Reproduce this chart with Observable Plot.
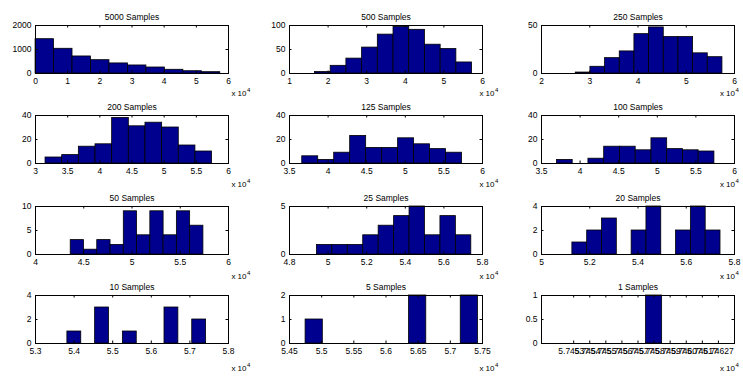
<!DOCTYPE html>
<html><head><meta charset="utf-8">
<script src="https://cdn.jsdelivr.net/npm/d3@7"></script>
<script src="https://cdn.jsdelivr.net/npm/@observablehq/plot@0.6"></script>
<style>
html,body{margin:0;padding:0;background:#fff;}
#wrap{position:relative;width:743px;height:377px;overflow:hidden;background:#fff;}
#wrap svg{position:absolute;}
</style></head><body><div id="wrap"></div>
<script>
// Panel titles
const titles = ["5000 Samples","500 Samples","250 Samples","200 Samples","125 Samples","100 Samples",
                "50 Samples","25 Samples","20 Samples","10 Samples","5 Samples","1 Samples"];
// histogram range (x 10^4): lowest and highest bin edge; 10 equal bins in between
const binLo = [0.002, 1.66, 2.71, 3.156, 3.665, 3.70, 4.365, 4.942, 5.128, 5.3826, 5.475, 5.74532];
const binHi = [5.745, 5.73, 5.75, 5.745, 5.735, 5.74, 5.74, 5.742, 5.742, 5.742, 5.743, 5.74632];
// counts per bin
const counts5000 = [1430, 1030, 710, 555, 420, 335, 250, 155, 95, 55];
const counts500  = [3, 16, 31, 54, 81, 97, 91, 60, 51, 23];
const counts250  = [1, 7, 16, 23, 41, 48, 38, 38, 21, 17];
const counts200  = [5, 7, 14, 16, 38, 31, 34, 30, 15, 10];
const counts125  = [6, 3, 9, 23, 13, 13, 21, 16, 12, 9];
const counts100  = [3, 0, 4, 14, 14, 11, 21, 12, 11, 10];
const counts50   = [3, 1, 3, 2, 9, 4, 9, 4, 9, 6];
const counts25   = [1, 1, 1, 2, 3, 4, 5, 2, 4, 2];
const counts20   = [1, 2, 3, 0, 2, 4, 0, 2, 4, 2];
const counts10   = [1, 0, 3, 0, 1, 0, 0, 3, 0, 2];
const counts5    = [1, 0, 0, 0, 0, 0, 2, 0, 0, 2];
const counts1    = [0, 0, 0, 0, 0, 1, 0, 0, 0, 0];
const counts = [counts5000, counts500, counts250, counts200, counts125, counts100,
                counts50, counts25, counts20, counts10, counts5, counts1];
// axis limits and ticks
const xLimits = [[0,6],[1,6],[2,6],[3,6],[3.5,6],[3.5,6],[4,6],[4.8,5.8],[5,5.8],[5.3,5.8],[5.45,5.75],[5.74517,5.74637]];
const xTicks = [
  [0,1,2,3,4,5,6],[1,2,3,4,5,6],[2,3,4,5,6],[3,3.5,4,4.5,5,5.5,6],[3.5,4,4.5,5,5.5,6],[3.5,4,4.5,5,5.5,6],
  [4,4.5,5,5.5,6],[4.8,5,5.2,5.4,5.6,5.8],[5,5.2,5.4,5.6,5.8],[5.3,5.4,5.5,5.6,5.7,5.8],
  [5.45,5.5,5.55,5.6,5.65,5.7,5.75],
  [5.74537,5.74547,5.74557,5.74567,5.74577,5.74587,5.74597,5.74607,5.74617,5.74627]
];
const yTicks = [[0,1000,2000],[0,50,100],[0,50],[0,20,40],[0,20,40],[0,20,40],
                [0,5,10],[0,5],[0,2,4],[0,2,4],[0,1,2],[0,0.5,1]];

const fmt = d => String(+(+d).toFixed(5));
const wrap = document.getElementById("wrap");
const colLeft = [35, 289, 541];
const rowTop = [24.5, 114.5, 205.5, 295];
const expDx = [18, 12, 0.5];
const expDy = [22, 23, 24, 27];
const W = 193, H = 48, mL = 36, mR = 26, mT = 18, mB = 34, tk = 2.5;

titles.forEach((title, i) => {
  const col = i % 3, row = Math.floor(i / 3);
  const n = counts[i].length, bw = (binHi[i] - binLo[i]) / n;
  const bins = counts[i].map((c, k) => ({x1: binLo[i] + k * bw, x2: binLo[i] + (k + 1) * bw, c}))
                        .filter(d => d.c > 0);
  const yt = yTicks[i];
  const svg = Plot.plot({
    width: mL + W + mR, height: mT + H + mB,
    marginLeft: mL, marginRight: mR, marginTop: mT, marginBottom: mB,
    style: {fontFamily: "'Liberation Sans', Arial, sans-serif", fontSize: "8.5px",
            background: "transparent", overflow: "visible", color: "black"},
    x: {domain: xLimits[i]},
    y: {domain: [0, yt[yt.length - 1]]},
    marks: [
      Plot.rect(bins, {x1: "x1", x2: "x2", y1: 0, y2: "c", fill: "#00008F", stroke: "black", strokeWidth: 0.8}),
      Plot.frame({stroke: "black", strokeWidth: 1}),
      Plot.tickX(xTicks[i], {x: d => d, insetTop: H - tk, stroke: "black"}),
      Plot.tickX(xTicks[i], {x: d => d, insetBottom: H - tk, stroke: "black"}),
      Plot.tickY(yt, {y: d => d, insetRight: W - tk, stroke: "black"}),
      Plot.tickY(yt, {y: d => d, insetLeft: W - tk, stroke: "black"}),
      Plot.axisX({ticks: xTicks[i], tickSize: 0, tickPadding: 4, label: null, tickFormat: fmt}),
      Plot.axisY({ticks: yt, tickSize: 0, tickPadding: 4, label: null, tickFormat: fmt}),
      Plot.text([title], {text: d => d, frameAnchor: "top", dy: -6, lineAnchor: "bottom"}),
      Plot.text(["x 10"], {text: d => d, frameAnchor: "bottom-right", dx: expDx[col], dy: expDy[row],
                           textAnchor: "end", lineAnchor: "bottom", fontSize: 8}),
      Plot.text(["4"], {text: d => d, frameAnchor: "bottom-right", dx: expDx[col] + 0.6, dy: expDy[row] - 4,
                        textAnchor: "start", lineAnchor: "bottom", fontSize: 6})
    ]
  });
  svg.style.left = (colLeft[col] - mL) + "px";
  svg.style.top = (rowTop[row] - mT) + "px";
  wrap.appendChild(svg);
});
</script></body></html>
